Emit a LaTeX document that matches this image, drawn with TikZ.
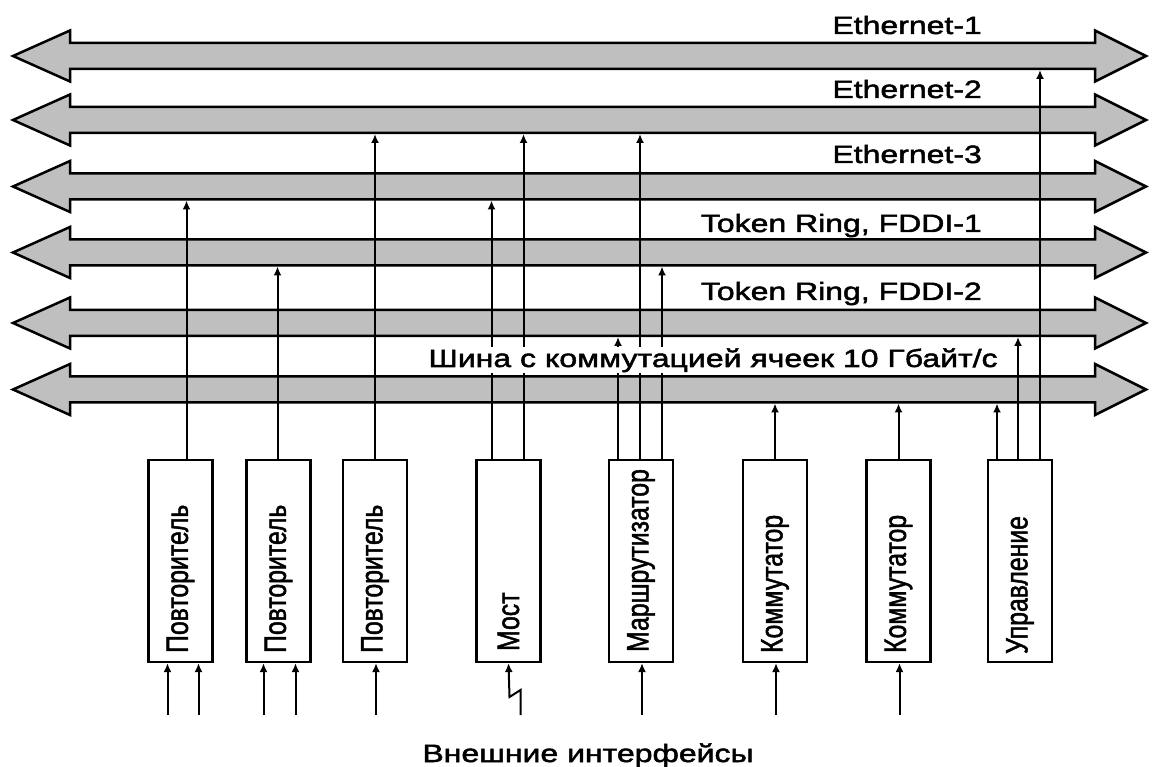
\documentclass[tikz,border=0pt]{standalone}
\usepackage{fontspec}
\setmainfont{Liberation Sans}
\newfontfamily\hfont[FakeStretch=1.28,FakeBold=2]{Liberation Sans}
\newfontfamily\vfont[FakeStretch=0.8,FakeBold=1.5]{Liberation Sans}
\usetikzlibrary{arrows.meta,calc}

\begin{document}
\begin{tikzpicture}[x=1pt, y=-1pt,
  bus/.style={draw, line width=2.5pt, fill=black!25, line join=miter},
  unit/.style={draw, rectangle, line width=2.2pt, minimum width=64pt,
               minimum height=202pt, inner sep=0pt},
  vlbl/.style={rotate=90, anchor=west, inner sep=0pt, font=\vfont\fontsize{31}{36}\selectfont},
  lbl/.style={inner sep=1pt, font=\hfont\fontsize{25}{30}\selectfont},
  lnk/.style={-{Latex[length=9pt,width=8pt]}, line width=2pt},
]
\useasboundingbox (0,0) rectangle (1152,767);

% buses, each with a point on the lower edge of its shaft
\foreach \y/\nm in {56/eth1, 120/eth2, 186.5/eth3, 252.5/fddi1, 323/fddi2, 389.5/cell} {
  \draw[bus] (13,\y) -- (70,{\y-25.5}) -- (70,{\y-13}) -- (1095,{\y-13}) -- (1095,{\y-25.5})
    -- (1146,\y) -- (1095,{\y+25.5}) -- (1095,{\y+13}) -- (70,{\y+13}) -- (70,{\y+25.5}) -- cycle;
  \coordinate (\nm) at (0,{\y+14});
}
\coordinate (inlvl) at (0,715);

\node[unit] (rep1) at (180.5,561) {};
\node[unit] (rep2) at (278.5,561) {};
\node[unit] (rep3) at (375,561) {};
\node[unit] (most) at (508.5,561) {};
\node[unit] (router) at (641,561) {};
\node[unit] (sw1) at (775,561) {};
\node[unit] (sw2) at (898.5,561) {};
\node[unit] (ctrl) at (1020,561) {};

\node[vlbl] (t-rep1) at ([yshift=10pt]rep1.south) {Повторитель};
\node[vlbl] (t-rep2) at ([yshift=10pt]rep2.south) {Повторитель};
\node[vlbl] (t-rep3) at ([yshift=10pt]rep3.south) {Повторитель};
\node[vlbl] (t-most) at ([yshift=12pt]most.south) {Мост};
\node[vlbl] (t-router) at ([yshift=11pt]router.south) {Маршрутизатор};
\node[vlbl] (t-sw1) at ([yshift=10pt]sw1.south) {Коммутатор};
\node[vlbl] (t-sw2) at ([yshift=10pt]sw2.south) {Коммутатор};
\node[vlbl] (t-ctrl) at ([yshift=9pt]ctrl.south) {Управление};

\draw[lnk] ([xshift=6pt]rep1.north) -- ([xshift=6pt]rep1.north |- eth3);
\draw[lnk] ([xshift=-1pt]rep2.north) -- ([xshift=-1pt]rep2.north |- fddi1);
\draw[lnk] (rep3.north) -- (rep3.north |- eth2);
\draw[lnk] ([xshift=-17pt]most.north) -- ([xshift=-17pt]most.north |- eth3);
\draw[lnk] ([xshift=15pt]most.north) -- ([xshift=15pt]most.north |- eth2);
\draw[lnk] ([xshift=-23pt]router.north) -- ([xshift=-23pt]router.north |- fddi2);
\draw[lnk] ([xshift=-1pt]router.north) -- ([xshift=-1pt]router.north |- eth2);
\draw[lnk] ([xshift=21pt]router.north) -- ([xshift=21pt]router.north |- fddi1);
\draw[lnk] (sw1.north) -- (sw1.north |- cell);
\draw[lnk] (sw2.north) -- (sw2.north |- cell);
\draw[lnk] ([xshift=-23pt]ctrl.north) -- ([xshift=-23pt]ctrl.north |- cell);
\draw[lnk] ([xshift=-2pt]ctrl.north) -- ([xshift=-2pt]ctrl.north |- fddi2);
\draw[lnk] ([xshift=20pt]ctrl.north) -- ([xshift=20pt]ctrl.north |- eth1);

\draw[lnk] ([xshift=-13pt]rep1.south |- inlvl) -- ([xshift=-13pt]rep1.south);
\draw[lnk] ([xshift=18pt]rep1.south |- inlvl) -- ([xshift=18pt]rep1.south);
\draw[lnk] ([xshift=-15pt]rep2.south |- inlvl) -- ([xshift=-15pt]rep2.south);
\draw[lnk] ([xshift=17pt]rep2.south |- inlvl) -- ([xshift=17pt]rep2.south);
\draw[lnk] ([xshift=1pt]rep3.south |- inlvl) -- ([xshift=1pt]rep3.south);
\draw[lnk] ([xshift=12pt]most.south |- inlvl) -- ++(0,-25) -- ++(-11,7) -- (most.south);
\draw[lnk] ([xshift=1pt]router.south |- inlvl) -- ([xshift=1pt]router.south);
\draw[lnk] ([xshift=1pt]sw1.south |- inlvl) -- ([xshift=1pt]sw1.south);
\draw[lnk] ([xshift=1pt]sw2.south |- inlvl) -- ([xshift=1pt]sw2.south);

\node[lbl, anchor=base east] (l-eth1) at (983,34) {Ethernet-1};
\node[lbl, anchor=base east] (l-eth2) at (983,98) {Ethernet-2};
\node[lbl, anchor=base east] (l-eth3) at (983,163) {Ethernet-3};
\node[lbl, anchor=base east] (l-fddi1) at (983,232) {Token Ring, FDDI-1};
\node[lbl, anchor=base east] (l-fddi2) at (983,300) {Token Ring, FDDI-2};
\node[lbl, anchor=base, fill=white] (l-cell) at (713,367) {Шина с коммутацией ячеек 10 Гбайт/с};
\node[lbl, anchor=base] (ext) at (588,762) {Внешние интерфейсы};
\end{tikzpicture}
\end{document}
